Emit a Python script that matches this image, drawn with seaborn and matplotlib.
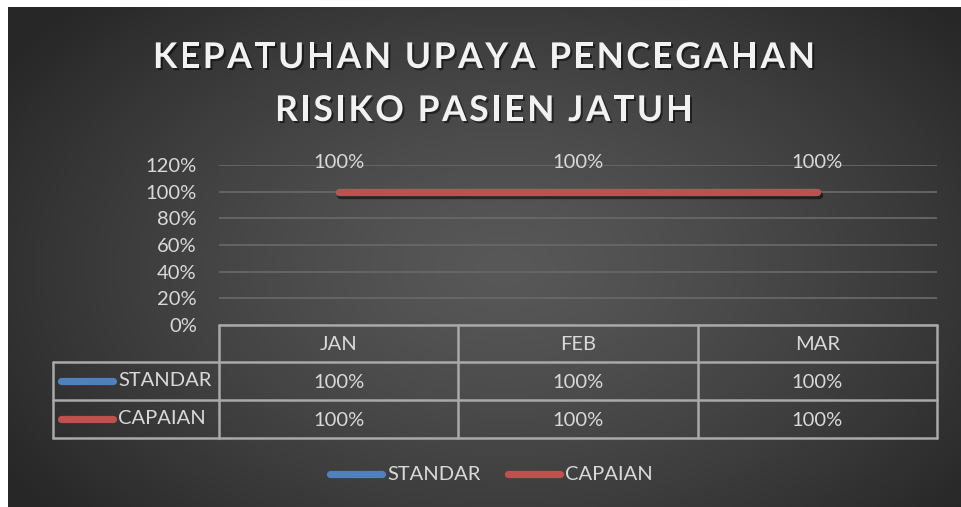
import numpy as np
import pandas as pd
import seaborn as sns
import matplotlib
matplotlib.use("Agg")
import matplotlib.pyplot as plt
import matplotlib.patheffects as pe
import matplotlib.transforms as mtransforms

# ---------------- data ----------------
months = ["JAN", "FEB", "MAR"]
series_names = ["STANDAR", "CAPAIAN"]
standar = [1.00, 1.00, 1.00]
capaian = [1.00, 1.00, 1.00]
y_ticks = [0.0, 0.2, 0.4, 0.6, 0.8, 1.0, 1.2]
title_lines = ["KEPATUHAN UPAYA PENCEGAHAN", "RISIKO PASIEN JATUH"]
colors = {"STANDAR": "#4f81bd", "CAPAIAN": "#c0504d"}

df = pd.DataFrame({
    "pos": list(range(len(months))) * 2,
    "month": months * 2,
    "series": ["STANDAR"] * len(months) + ["CAPAIAN"] * len(months),
    "value": standar + capaian,
})

sns.set_theme(style="dark")
plt.rcParams["font.family"] = ["Lato", "DejaVu Sans"]

W, H = 962, 507
fig = plt.figure(figsize=(W / 100, H / 100), dpi=100, facecolor="white")

# ---------------- background (radial gradient panel) ----------------
bg = fig.add_axes([8 / W, 0, (W - 8) / W, (H - 7) / H], zorder=-10)
bw, bh = W - 8, H - 7
yy, xx = np.mgrid[0:bh, 0:bw]
cx, cy = bw * 0.52, bh * 0.52
r = np.sqrt(((xx - cx) / (bw * 0.62)) ** 2 + ((yy - cy) / (bh * 0.75)) ** 2)
r = np.clip(r, 0, 1)
c0, c1 = 0.345, 0.155
g = c0 + (c1 - c0) * r ** 1.3
bg.imshow(np.dstack([g, g, g]), aspect="auto", interpolation="bilinear")
bg.set_axis_off()

# ---------------- overlay (pixel coords) ----------------
ov = fig.add_axes([0, 0, 1, 1], zorder=5)
ov.set_xlim(0, W)
ov.set_ylim(H, 0)
ov.set_axis_off()
ov.patch.set_alpha(0)

# ---------------- main axes ----------------
ax_left, ax_right = 219, 937
ax_top, ax_bottom = 165, 325
ax = fig.add_axes([ax_left / W, (H - ax_bottom) / H, (ax_right - ax_left) / W,
                   (ax_bottom - ax_top) / H], zorder=3)
ax.set_facecolor("none")

FS = 14.5
shadow = [pe.SimpleLineShadow(offset=(1.2, -2.2), shadow_color="black", alpha=0.3),
          pe.Normal()]
sns.lineplot(data=df, x="pos", y="value", hue="series", hue_order=series_names,
             palette=colors, linewidth=5.2, legend=False, ax=ax,
             solid_capstyle="round", path_effects=shadow, zorder=4)

ax.set_xlim(-0.5, len(months) - 0.5)
ax.set_ylim(0, 1.2)
ax.set_yticks(y_ticks)
ax.set_yticklabels([f"{v:.0%}" for v in y_ticks])
ax.set_xticks([])
ax.set_xlabel("")
ax.set_ylabel("")
ax.tick_params(axis="y", length=0, pad=16, labelsize=FS, labelcolor="#d9d9d9")
ax.grid(axis="y", color="#676767", linewidth=1.3)
ax.grid(axis="x", visible=False)
for s in ax.spines.values():
    s.set_visible(False)

# data labels (last series on top)
for i, v in enumerate(capaian):
    ax.annotate(f"{v:.0%}", (i, v), xytext=(0, 29), textcoords="offset pixels",
                ha="center", va="center", fontsize=FS, color="#d9d9d9")

# ---------------- data table ----------------
tr = mtransforms.blended_transform_factory(ax.transData, ov.transData)
line_kw = dict(color="#a9a9a9", linewidth=1.8, zorder=6)
row_edges = [325, 362, 400, 438]
table_left_px = 53
n = len(months)
col_edges = [i - 0.5 for i in range(n + 1)]

ov.plot([-0.5, n - 0.5], [row_edges[0]] * 2, transform=tr, **line_kw)
for yv in row_edges[1:]:
    ov.plot([table_left_px, ax_left], [yv, yv], **line_kw)
    ov.plot([-0.5, n - 0.5], [yv, yv], transform=tr, **line_kw)
for xv in col_edges:
    ov.plot([xv, xv], [row_edges[0], row_edges[-1]], transform=tr, **line_kw)
ov.plot([table_left_px] * 2, [row_edges[1], row_edges[-1]], **line_kw)

txt_kw = dict(ha="center", va="center", fontsize=FS, color="#d9d9d9", zorder=7)
for i, m in enumerate(months):
    ov.text(i, (row_edges[0] + row_edges[1]) / 2 + 1, m, transform=tr, **txt_kw)
for r_i, (name, vals) in enumerate(zip(series_names, [standar, capaian])):
    ymid = (row_edges[r_i + 1] + row_edges[r_i + 2]) / 2
    for i, v in enumerate(vals):
        ov.text(i, ymid + 1, f"{v:.0%}", transform=tr, **txt_kw)
    ov.plot([61, 113], [ymid, ymid], color=colors[name], linewidth=5.2,
            solid_capstyle="round", zorder=7)
    ov.text(118, ymid, name, ha="left", va="center", fontsize=FS, color="#d9d9d9")

# ---------------- bottom legend ----------------
leg_y = 474
leg_x = [330, 508]
for name, x0 in zip(series_names, leg_x):
    ov.plot([x0, x0 + 52], [leg_y, leg_y], color=colors[name], linewidth=5.2,
            solid_capstyle="round", zorder=7)
    ov.text(x0 + 57, leg_y, name, ha="left", va="center", fontsize=FS, color="#d9d9d9")

# ---------------- title with letter spacing ----------------
renderer = fig.canvas.get_renderer()
tkw = dict(fontsize=25.5, fontweight="bold", color="#f2f2f2")


def char_width(ch):
    if ch == " ":
        a = ov.text(0, 0, "x x", **tkw)
        b = ov.text(0, 0, "xx", **tkw)
        w = a.get_window_extent(renderer).width - b.get_window_extent(renderer).width
        a.remove(); b.remove()
        return w
    t = ov.text(0, 0, ch, **tkw)
    w = t.get_window_extent(renderer).width
    t.remove()
    return w


title_width_px = 662
title_center = 484
baselines = [68, 121]
w0 = [char_width(c) for c in title_lines[0]]
spacing = (title_width_px - sum(w0)) / (len(title_lines[0]) - 1)
tshadow = [pe.SimplePatchShadow(offset=(1.5, -1.5), shadow_rgbFace="black", alpha=0.5),
           pe.Normal()]
for line, base in zip(title_lines, baselines):
    ws = [char_width(c) for c in line]
    total = sum(ws) + spacing * (len(line) - 1)
    x = title_center - total / 2
    for c, w in zip(line, ws):
        if c != " ":
            ov.text(x, base, c, ha="left", va="baseline", path_effects=tshadow, **tkw)
        x += w + spacing

fig.savefig("out.png", dpi=100, facecolor="white")
